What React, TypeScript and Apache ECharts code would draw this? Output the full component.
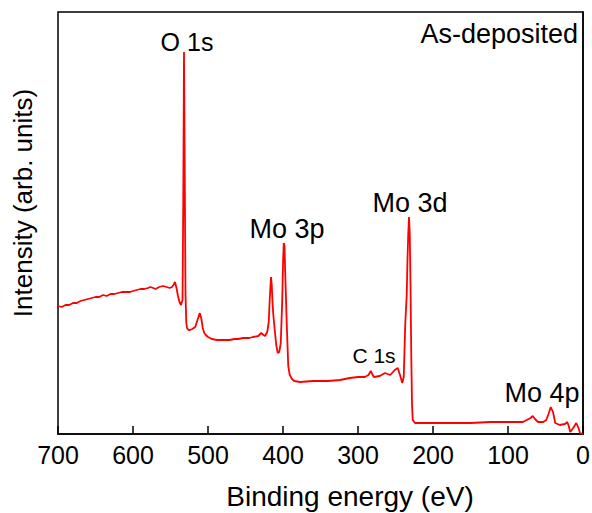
import React, { useEffect, useRef } from "react";
import * as echarts from "echarts";

// Binding energy (eV) and intensity (arb. units)
const bindingEnergy = [
  700, 695, 690, 685, 680, 675, 670, 665, 660, 655, 650, 645, 640, 635, 630, 625, 620, 615, 610, 604,
  600, 595, 590, 585, 580, 577, 573, 570, 565, 560, 555, 551, 548, 546, 544, 542, 540, 538, 536, 534,
  533, 532, 531, 530, 529, 528, 526, 524, 521, 517, 514, 511, 509, 507, 505, 503, 500, 495, 488, 480,
  471, 465, 460, 453, 445, 440, 433, 429, 426, 424, 421, 419, 418, 417, 416, 415, 414, 413, 411, 409,
  407, 405, 403, 401, 400, 399, 398, 397, 395, 393, 391, 388, 385, 377, 360, 340, 324, 311, 300, 291,
  286, 283, 281, 279, 271, 264, 257, 251, 247, 244, 241, 239, 237, 236, 235, 234, 233, 232, 231, 230,
  229, 228, 227, 224, 200, 150, 124, 100, 80, 70, 67, 64, 60, 53, 49, 46, 43, 40, 37, 31,
  24, 21, 19, 17, 13, 9, 6, 4, 0,
];
const intensity = [
  128, 127, 129, 129, 131, 131, 133, 134, 135, 136, 137, 137, 139, 138, 140, 140, 141, 142, 142, 142,
  143, 144, 145, 145, 146, 147, 146, 145, 147, 148, 147, 146, 147, 149, 152, 146, 138, 132, 129, 134,
  230, 382, 260, 140, 112, 106, 104, 104, 105, 107, 114, 121, 116, 106, 101, 99, 97, 95, 94, 94,
  94, 95, 95, 96, 96, 97, 98, 101, 99, 98, 102, 112, 130, 144, 157, 149, 132, 120, 104, 89,
  81, 82, 91, 134, 170, 191, 188, 160, 110, 68, 59, 55, 53, 52, 53, 53, 54, 56, 57, 57,
  59, 63, 60, 57, 58, 61, 59, 64, 66, 59, 51, 57, 110, 125, 140, 175, 200, 217, 200, 150,
  80, 30, 14, 11, 11, 11, 12, 12, 12, 16, 18, 15, 12, 12, 14, 20, 27, 22, 11, 9,
  10, 12, 8, 2, 6, 11, 6, 1, 0,
];

const xTicks = [0, 100, 200, 300, 400, 500, 600, 700];
const peakLabels = ["O 1s", "Mo 3p", "Mo 3d", "C 1s", "Mo 4p"];
const sampleLabel = "As-deposited";
const xTitle = "Binding energy (eV)";
const yTitle = "Intensity (arb. units)";

const FONT = "'Liberation Sans', Arial, Helvetica, sans-serif";

export default function App() {
  const ref = useRef<HTMLDivElement>(null);

  useEffect(() => {
    if (!ref.current) return;
    const chart = echarts.init(ref.current, undefined, { renderer: "svg" });
    const data = bindingEnergy.map((e, i) => [e, intensity[i]]);
    const labelPos = [
      { x: 187, y: 42, size: 25 },
      { x: 287, y: 229, size: 27 },
      { x: 410, y: 203, size: 27 },
      { x: 374, y: 355, size: 21 },
      { x: 542, y: 393, size: 27 },
    ];
    const txt = (text: string, x: number, y: number, size: number, align: string, rotation = 0) => ({
      type: "text",
      x,
      y,
      rotation,
      style: {
        text,
        fill: "#000",
        font: `${size}px ${FONT}`,
        align,
        verticalAlign: "middle",
      },
    });
    const graphics: any[] = peakLabels.map((t, i) =>
      txt(t, labelPos[i].x, labelPos[i].y, labelPos[i].size, "center")
    );
    graphics.push(txt(sampleLabel, 578, 34, 27, "right"));
    graphics.push(txt(xTitle, 350, 496, 28, "center"));
    graphics.push(txt(yTitle, 23, 203, 26, "center", Math.PI / 2));

    chart.setOption({
      animation: false,
      backgroundColor: "#fff",
      grid: {
        left: 58,
        right: 9,
        top: 12,
        bottom: 79,
        show: true,
        borderColor: "#000",
        borderWidth: 1.5,
        containLabel: false,
        outerBoundsMode: "none",
      },
      xAxis: {
        type: "value",
        min: 0,
        max: 700,
        interval: 100,
        inverse: true,
        axisLine: { show: true, lineStyle: { color: "#000", width: 1.5 } },
        axisTick: { show: true, inside: true, length: 8, lineStyle: { color: "#000", width: 1.5 } },
        axisLabel: {
          fontSize: 25,
          color: "#000",
          fontFamily: FONT,
          margin: 8,
          formatter: (v: number) => (xTicks.includes(v) ? String(v) : ""),
        },
        splitLine: { show: false },
      },
      yAxis: {
        type: "value",
        min: 0,
        max: 422,
        axisLine: { show: true, lineStyle: { color: "#000", width: 1.5 } },
        axisTick: { show: false },
        axisLabel: { show: false },
        splitLine: { show: false },
      },
      series: [
        {
          type: "line",
          data,
          showSymbol: false,
          symbol: "none",
          lineStyle: { color: "#ff0000", width: 1.8 },
          z: 3,
        },
      ],
      graphic: graphics,
    });
    return () => chart.dispose();
  }, []);

  return (
    <div
      ref={ref}
      style={{ position: "fixed", left: 0, top: 0, width: 592, height: 513, background: "#fff" }}
    />
  );
}
